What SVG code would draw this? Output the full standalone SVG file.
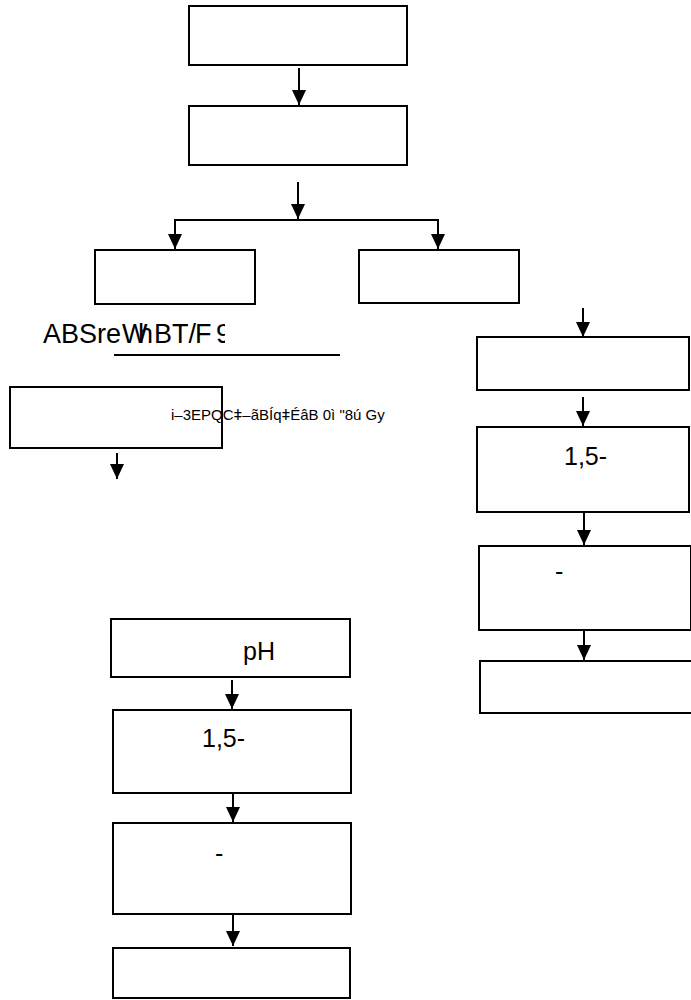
<svg xmlns="http://www.w3.org/2000/svg" width="691" height="1000" viewBox="0 0 691 1000">
<style>
.box{fill:#fff;stroke:#000;stroke-width:2}
.ln{fill:none;stroke:#000;stroke-width:2}
.t{font-family:"Liberation Sans",Arial,sans-serif;fill:#000}
</style>
<defs>
<marker id="ah" markerWidth="14" markerHeight="15" refX="15" refY="7" orient="auto" markerUnits="userSpaceOnUse">
<path d="M0,0 L15,7 L0,14 Z" fill="#000"/>
</marker>
<clipPath id="cl"><rect x="0" y="300" width="225" height="60"/></clipPath>
</defs>
<rect width="691" height="1000" fill="#fff"/>
<g id="connectors">
<line class="ln" x1="299" y1="68" x2="299" y2="105" marker-end="url(#ah)"/>
<line class="ln" x1="298" y1="182" x2="298" y2="219" marker-end="url(#ah)"/>
<polyline class="ln" points="175,236 175,220 438,220 438,236"/>
<line class="ln" x1="175" y1="222" x2="175" y2="249" marker-end="url(#ah)"/>
<line class="ln" x1="438" y1="222" x2="438" y2="249" marker-end="url(#ah)"/>
<line class="ln" x1="583" y1="308" x2="583" y2="337" marker-end="url(#ah)"/>
<line class="ln" x1="583" y1="397" x2="583" y2="426" marker-end="url(#ah)"/>
<line class="ln" x1="584" y1="513" x2="584" y2="545" marker-end="url(#ah)"/>
<line class="ln" x1="584" y1="631" x2="584" y2="660" marker-end="url(#ah)"/>
<line class="ln" x1="117" y1="453" x2="117" y2="479" marker-end="url(#ah)"/>
<line class="ln" x1="232" y1="680" x2="232" y2="709" marker-end="url(#ah)"/>
<line class="ln" x1="233" y1="794" x2="233" y2="822" marker-end="url(#ah)"/>
<line class="ln" x1="233" y1="915" x2="233" y2="946" marker-end="url(#ah)"/>
<line class="ln" x1="114" y1="355" x2="340" y2="355"/>
</g>
<g id="n1"><rect class="box" x="189" y="6" width="218" height="59"/></g>
<g id="n2"><rect class="box" x="189" y="106" width="218" height="59"/></g>
<g id="n3"><rect class="box" x="95" y="250" width="160" height="54"/></g>
<g id="n4"><rect class="box" x="359" y="250" width="160" height="53"/></g>
<g id="label1" clip-path="url(#cl)"><text class="t" y="343" font-size="27"><tspan x="43">ABSre</tspan><tspan x="122">W</tspan><tspan x="138">h</tspan><tspan x="154">BT/</tspan><tspan x="195">F</tspan><tspan x="216">9</tspan></text></g>
<g id="n5"><rect class="box" x="10" y="387" width="212" height="61"/>
<text class="t" x="171" y="420" font-size="15">i–3EPQCǂ–ãBÍqǂÉâB 0ì "8ú Gy</text></g>
<g id="r2"><rect class="box" x="477" y="337" width="212" height="53"/></g>
<g id="r3"><rect class="box" x="477" y="427" width="212" height="85"/>
<text class="t" x="564" y="465" font-size="25">1,5-</text></g>
<g id="r4"><rect class="box" x="479" y="546" width="212" height="84"/>
<text class="t" x="555" y="580" font-size="25">-</text></g>
<g id="r5"><rect class="box" x="480" y="661" width="212" height="52"/></g>
<g id="l4"><rect class="box" x="111" y="619" width="239" height="58"/>
<text class="t" x="243" y="660" font-size="25">pH</text></g>
<g id="l5"><rect class="box" x="113" y="710" width="238" height="83"/>
<text class="t" x="202" y="747" font-size="25">1,5-</text></g>
<g id="l6"><rect class="box" x="113" y="823" width="238" height="91"/>
<text class="t" x="215" y="862" font-size="25">-</text></g>
<g id="l7"><rect class="box" x="113" y="948" width="237" height="50"/></g>
</svg>
